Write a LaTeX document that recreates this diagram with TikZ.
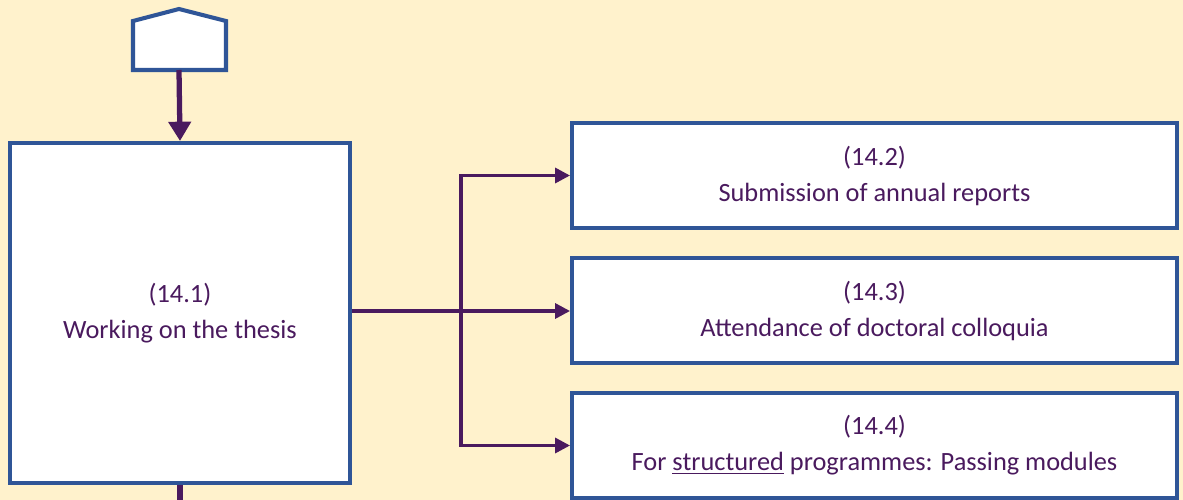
\documentclass[tikz,border=0pt]{standalone}
\usepackage[rgb]{xcolor}
\usepackage{fontspec}
\setmainfont{Carlito}
\usepackage{tikz}
\usetikzlibrary{positioning,arrows.meta}

\definecolor{paper}{HTML}{FFF2CC}
\definecolor{frameblue}{HTML}{2F5597}
\definecolor{plum}{HTML}{4A1A5E}

\tikzset{
  stepbox/.style={draw=frameblue, fill=white, line width=2.3pt, text=plum,
    align=center, inner sep=0pt, font=\fontsize{15}{20.5}\selectfont},
  flow/.style={draw=plum, line width=1.9pt, -{Triangle[length=8.5pt, width=8.5pt]}},
}

\begin{document}
\begin{tikzpicture}[x=0.02cm, y=-0.02cm]

% Page
\useasboundingbox (0,0) rectangle (1183,500);
\fill[paper] (0,0) rectangle (1183,500);

%
% Off-page connector
%
\filldraw[fill=white, draw=frameblue, line width=2.3pt, line join=miter]
(133,70) -- (133,21) -- (179,9) -- (226,21) -- (226,70) -- cycle;
\coordinate (entry) at (179,70);


% Working on the thesis
\path
(180,313) node [stepbox, minimum width=6.8cm, minimum height=6.8cm] (thesis)
{(14.1)\\Working on the thesis};

\draw[draw=plum, line width=3pt, -{Triangle[length=11pt, width=12.5pt]}]
(entry) -- (thesis.north);

\coordinate (exit) at (180,500);
\draw[draw=plum, line width=3pt] (thesis.south) -- (exit);


%
% Follow-up steps
%
\path
(874.5,175.5) node [stepbox, minimum width=12.1cm, minimum height=2.1cm] (reports)
{(14.2)\\Submission of annual reports};

\path
(874.5,310.5) node [stepbox, minimum width=12.1cm, minimum height=2.1cm] (colloquia)
{(14.3)\\Attendance of doctoral colloquia};

\path
(874.5,445.5) node [stepbox, minimum width=12.1cm, minimum height=2.1cm] (modules)
{(14.4)\\For \underline{structured} programmes: Passing modules};


% Branching
\coordinate (split) at (461,311);
\draw[draw=plum, line width=2.3pt] (thesis.east |- split) -- (split);

\draw[flow] (split) -- (split -| colloquia.west);
\draw[flow] (split) |- (reports.west);
\draw[flow] (split) |- (modules.west);

\end{tikzpicture}
\end{document}
